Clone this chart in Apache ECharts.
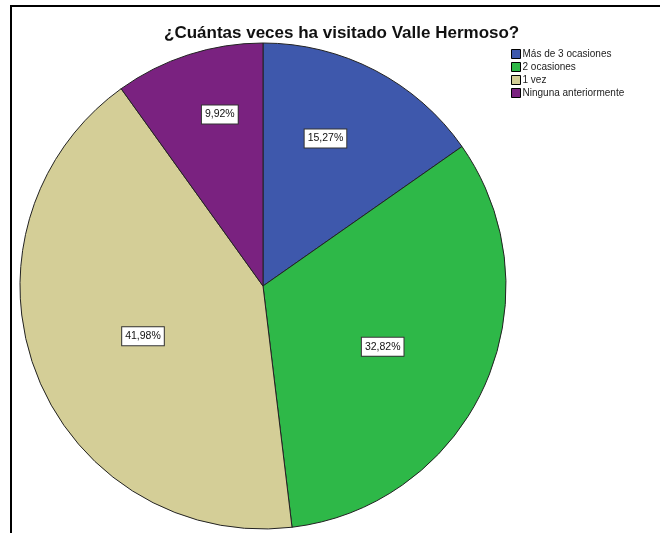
<!DOCTYPE html>
<html>
<head>
<meta charset="utf-8">
<script src="https://cdn.jsdelivr.net/npm/echarts@6/dist/echarts.min.js"></script>
<style>
  html, body { margin: 0; padding: 0; background: #fff; }
  #chart { width: 660px; height: 533px; }
</style>
</head>
<body>
<div id="chart"></div>
<script>
// datos
var categorias = ['Más de 3 ocasiones', '2 ocasiones', '1 vez', 'Ninguna anteriormente'];
var porcentajes = [15.27, 32.82, 41.98, 9.92];
var colores = ['#3E58AC', '#2EB848', '#D4CE97', '#7A2280'];
// ajuste de las etiquetas (estilo, no datos)
var desplazamientos = [[5, -37], [6, 10], [-4, 5], [-5, -53]];

var chart = echarts.init(document.getElementById('chart'), null, { renderer: 'canvas' });

var datos = categorias.map(function (c, i) {
  return {
    name: c,
    value: porcentajes[i],
    itemStyle: { color: colores[i] },
    label: { offset: desplazamientos[i] }
  };
});

chart.setOption({
  animation: false,
  title: {
    text: '¿Cuántas veces ha visitado Valle Hermoso?',
    left: 164,
    top: 25,
    padding: 0,
    textStyle: { fontFamily: 'Liberation Sans, Arial', fontSize: 17, lineHeight: 17, fontWeight: 'bold', color: '#111' }
  },
  legend: {
    orient: 'vertical',
    left: 511,
    top: 49,
    padding: 0,
    itemWidth: 9,
    itemHeight: 9,
    itemGap: 3,
    icon: 'rect',
    itemStyle: { borderColor: '#000', borderWidth: 1 },
    textStyle: { fontFamily: 'Liberation Sans, Arial', fontSize: 10, color: '#222', padding: [0, 0, 0, -3] },
    data: categorias
  },
  graphic: [{
    type: 'rect',
    shape: { x: 11, y: 6, width: 800, height: 800 },
    style: { fill: 'none', stroke: '#000', lineWidth: 2 },
    silent: true
  }],
  series: [{
    type: 'pie',
    center: [263, 286],
    radius: 243,
    startAngle: 90,
    clockwise: true,
    avoidLabelOverlap: false,
    itemStyle: { borderColor: '#222', borderWidth: 1 },
    label: {
      show: true,
      position: 'inside',
      formatter: function (p) { return p.value.toFixed(2).replace('.', ',') + '%'; },
      fontFamily: 'Liberation Sans, Arial',
      fontSize: 10.5,
      color: '#111',
      backgroundColor: '#fff',
      borderColor: '#333',
      borderWidth: 1,
      padding: [4, 3, 3, 3]
    },
    labelLine: { show: false },
    emphasis: { disabled: true },
    data: datos
  }]
});
</script>
</body>
</html>
